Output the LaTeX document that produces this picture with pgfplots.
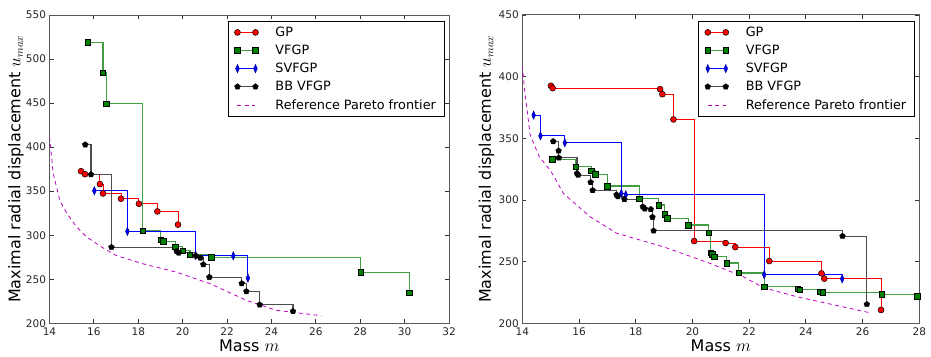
\documentclass[border=0pt]{standalone}
\usepackage{pgfplots}
\pgfplotsset{compat=1.18}
\usepackage{fontspec}
\setmainfont{DejaVu Sans}
\definecolor{mplgreen}{rgb}{0,0.5,0}
\definecolor{mplmag}{rgb}{0.75,0,0.75}
\begin{document}
\begin{tikzpicture}
\useasboundingbox (0pt,0pt) rectangle (931pt,-356pt);
\pgfplotsset{
  myaxis/.style={
    scale only axis, height=308.3pt,
    axis line style={black!65, line width=1pt},
    tick align=inside, xtick pos=both, ytick pos=both,
    major tick length=4pt,
    every tick/.style={black!80, line width=0.8pt},
    /pgf/number format/assume math mode=true,
    tick label style={font=\fontsize{10.5}{12}\selectfont, text=black!85},
    xticklabel style={yshift=-1pt},
    label style={font=\fontsize{16}{19}\selectfont},
    xlabel={Mass $m$}, ylabel={Maximal radial displacement $u_{max}$},
    xlabel style={at={(axis description cs:0.5,-0.0714)}, anchor=center},
    legend style={at={(1,1)}, anchor=north east, xshift=-4.7pt, yshift=-6pt, draw=black, line width=0.8pt,
      font=\fontsize{12.8}{15}\selectfont, cells={anchor=west}, row sep=3.1pt, inner xsep=6pt, inner ysep=3.5pt,
      /tikz/every odd column/.append style={column sep=15pt}},
    legend image code/.code={\draw[##1, mark repeat=1, mark phase=1] plot coordinates {(0pt,0pt) (18pt,0pt)};},
  },
  gp/.style={const plot, color=red, line width=0.9pt, mark=*, mark size=3pt, mark options={solid, fill=red, draw=black, line width=0.5pt}},
  vf/.style={const plot, color=mplgreen!75, line width=1.1pt, mark=square*, mark size=2.8pt, mark options={solid, fill=mplgreen, draw=black, line width=0.6pt}},
  sv/.style={const plot, color=blue, line width=0.9pt, mark=diamond*, mark size=4.2pt, mark options={solid, xscale=0.6, fill=blue, draw=blue!50!black, line width=0.4pt}},
  bb/.style={const plot, color=black!70, line width=1.1pt, mark=pentagon*, mark size=3pt, mark options={solid, fill=black, draw=black, line width=0.4pt}},
  rf/.style={color=mplmag, line width=0.8pt, dash pattern=on 4pt off 3.5pt, mark=none},
}
% ---------------- left axis ----------------
\begin{axis}[myaxis, at={(49.5pt,-323.3pt)}, anchor=south west, width=399.5pt,
  xmin=14, xmax=32, ymin=200, ymax=550,
  xtick={14,16,...,32}, ytick={200,250,...,550},
  ylabel style={at={(axis description cs:-0.0839,0.5)}, anchor=center}]
\addplot[gp] coordinates {(15.42,372.7) (15.60,369.3) (16.27,358) (16.41,347.4) (17.22,341.4) (18.03,335.7) (18.86,327) (19.79,312)};
\addlegendentry{GP}
\addplot[vf] coordinates {(15.72,519) (16.41,484.3) (16.55,449.2) (18.20,305.2) (19.02,294.7) (19.14,293.1) (19.68,286.7) (20.0,282.2) (20.33,277.7) (21.29,274.7) (28.02,258) (30.21,234.7)};
\addlegendentry{VFGP}
\addplot[sv] coordinates {(16.02,350.5) (17.51,304.4) (20.59,276.9) (22.28,276.6) (22.94,251.3)};
\addlegendentry{SVFGP}
\addplot[bb] coordinates {(15.61,402.8) (15.87,368.9) (16.79,286.3) (19.73,281.8) (19.82,280) (20.59,276.6) (20.80,274.3) (20.93,266.7) (21.2,252.4) (22.66,245.2) (22.87,236.2) (23.47,221.1) (24.97,213.6)};
\addlegendentry{BB VFGP}
\addplot[rf] coordinates {(14.0,412) (14.17,370) (14.47,339) (14.78,325) (15.2,310) (15.68,298) (16.2,289) (16.58,283) (17.0,277) (18.22,267.5) (19.73,258) (21.23,245) (22.88,226) (24.23,214.7) (26.26,208.6)};
\addlegendentry{Reference Pareto frontier}
\end{axis}
% ---------------- right axis ----------------
\begin{axis}[myaxis, at={(522.3pt,-323.3pt)}, anchor=south west, width=397pt,
  xmin=14, xmax=28, ymin=200, ymax=450,
  xtick={14,16,...,28}, ytick={200,250,...,450},
  ylabel style={at={(axis description cs:-0.0906,0.5)}, anchor=center}]
\addplot[gp] coordinates {(15.01,392.6) (15.07,390.7) (18.86,389.9) (18.94,385.8) (19.33,365.3) (20.06,266.7) (21.17,265.1) (21.51,261.8) (22.71,250.5) (24.55,240.5) (24.65,236.2) (26.65,210.8)};
\addlegendentry{GP}
\addplot[vf] coordinates {(15.05,333.1) (15.89,326.9) (16.43,323.7) (16.57,320.7) (17.0,311.3) (18.13,301) (18.81,295.9) (19.02,288.6) (19.11,285.1) (19.85,279.7) (20.57,273.4) (20.65,257.2) (20.71,255.9) (20.78,254) (21.21,248.9) (21.63,240.8) (22.53,229.7) (23.72,228) (23.79,227.2) (24.49,225.4) (24.59,225.1) (26.68,223.7) (27.93,221.9)};
\addlegendentry{VFGP}
\addplot[sv] coordinates {(14.40,368.8) (14.64,352) (15.50,346.4) (17.49,305.3) (17.65,304.2) (22.53,239.4) (25.28,236.1)};
\addlegendentry{SVFGP}
\addplot[bb] coordinates {(15.09,347.5) (15.28,339.9) (15.29,334.2) (15.93,321.5) (15.97,320.2) (16.41,314.3) (16.48,307.8) (17.32,304.2) (17.37,302.9) (17.60,300.5) (18.25,294.5) (18.32,292.9) (18.53,292.4) (18.59,286.1) (18.63,275) (25.29,270.7) (26.15,215.4)};
\addlegendentry{BB VFGP}
\addplot[rf] coordinates {(14.0,409) (14.1,385) (14.28,352.6) (14.6,335) (14.99,324) (15.45,305.3) (16.39,286.4) (17.33,273) (18.98,262) (20.62,248.6) (21.79,237.8) (22.5,228.9) (23.67,221.6) (26.25,208.6)};
\addlegendentry{Reference Pareto frontier}
\end{axis}
\end{tikzpicture}
\end{document}
